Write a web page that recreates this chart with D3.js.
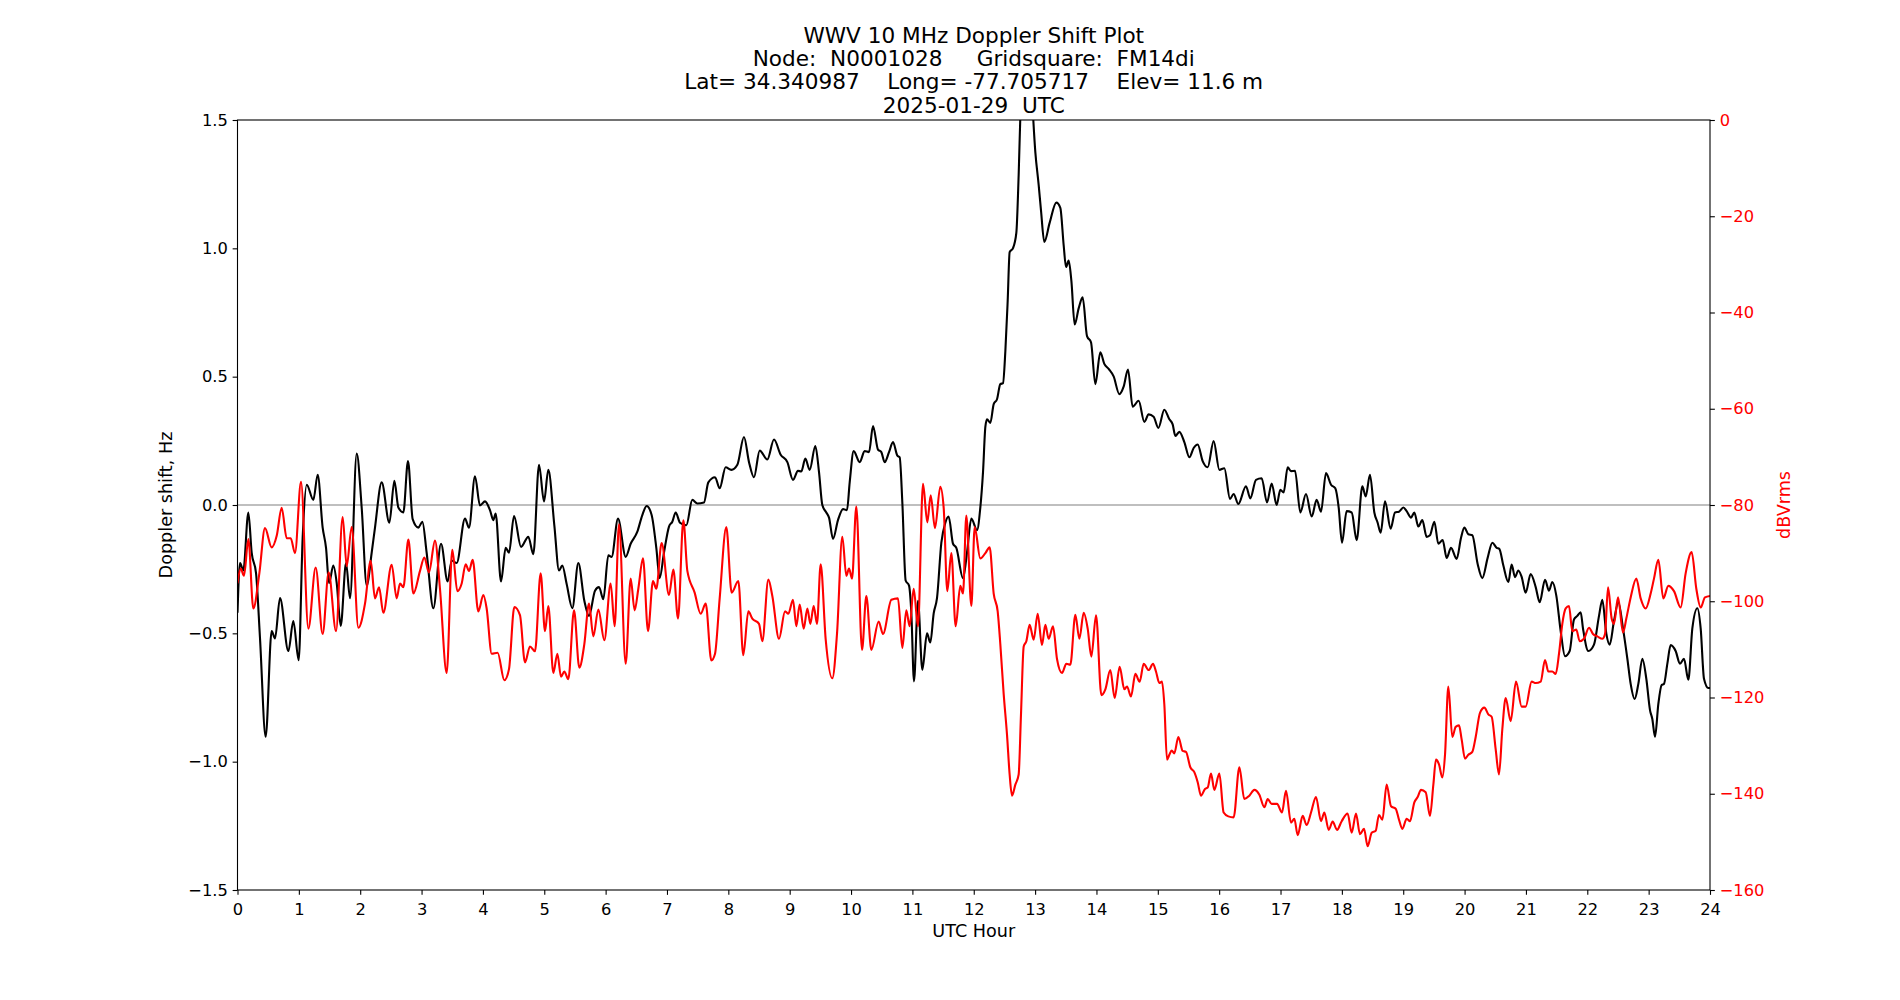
<!DOCTYPE html>
<html>
<head>
<meta charset="utf-8">
<script src="https://cdn.jsdelivr.net/npm/d3@7"></script>
<style>
  body { margin: 0; background: #fff; }
  svg text { font-family: "DejaVu Sans", sans-serif; }
</style>
</head>
<body>
<svg id="chart"></svg>
<script>
// title lines
var titleLines = [
  "WWV 10 MHz Doppler Shift Plot",
  "Node:  N0001028     Gridsquare:  FM14di",
  "Lat= 34.340987    Long= -77.705717    Elev= 11.6 m",
  "2025-01-29  UTC"
];

var xTicks = d3.range(0, 25, 1);
var leftTicks = [-1.5, -1.0, -0.5, 0.0, 0.5, 1.0, 1.5];
var rightTicks = [0, -20, -40, -60, -80, -100, -120, -140, -160];

// doppler shift (Hz): [UTC hour, value]
var dopplerSeries = [
  [0.0,-0.42],[0.041,-0.226],[0.095,-0.255],[0.177,-0.029],[0.231,-0.186],[0.302,-0.265],[0.367,-0.52],
  [0.459,-0.903],[0.557,-0.491],[0.611,-0.52],[0.693,-0.363],[0.829,-0.569],[0.910,-0.452],[0.997,-0.605],
  [1.062,-0.128],[1.128,0.079],[1.236,0.02],[1.307,0.118],[1.388,-0.088],[1.443,-0.167],[1.492,-0.304],
  [1.562,-0.236],[1.617,-0.304],[1.682,-0.471],[1.769,-0.226],[1.834,-0.363],[1.943,0.2],[2.024,-0.01],
  [2.106,-0.314],[2.187,-0.186],[2.241,-0.088],[2.350,0.088],[2.475,-0.069],[2.557,0.094],[2.622,-0.01],
  [2.703,-0.029],[2.779,0.171],[2.855,-0.055],[2.948,-0.088],[3.013,-0.065],[3.083,-0.186],[3.192,-0.402],
  [3.317,-0.151],[3.425,-0.298],[3.491,-0.216],[3.572,-0.226],[3.708,-0.053],[3.773,-0.088],[3.871,0.112],
  [3.952,-0.002],[4.034,0.014],[4.115,-0.02],[4.170,-0.059],[4.208,-0.033],[4.295,-0.298],[4.371,-0.167],
  [4.425,-0.186],[4.507,-0.043],[4.621,-0.163],[4.740,-0.124],[4.822,-0.192],[4.914,0.157],[4.996,0.014],
  [5.066,0.137],[5.164,-0.079],[5.240,-0.255],[5.294,-0.236],[5.365,-0.308],[5.457,-0.402],[5.555,-0.226],
  [5.653,-0.373],[5.729,-0.432],[5.827,-0.334],[5.892,-0.32],[5.963,-0.367],[6.044,-0.196],[6.098,-0.202],
  [6.202,-0.053],[6.327,-0.202],[6.408,-0.151],[6.517,-0.104],[6.598,-0.039],[6.669,-0.004],[6.750,-0.039],
  [6.826,-0.167],[6.881,-0.285],[6.951,-0.186],[7.033,-0.084],[7.087,-0.065],[7.142,-0.029],[7.212,-0.069],
  [7.315,-0.079],[7.413,0.02],[7.495,0.006],[7.603,0.01],[7.674,0.088],[7.783,0.108],[7.859,0.065],
  [7.956,0.147],[8.049,0.137],[8.147,0.157],[8.255,0.265],[8.337,0.167],[8.418,0.108],[8.511,0.212],
  [8.636,0.177],[8.744,0.255],[8.853,0.196],[8.962,0.167],[9.054,0.098],[9.135,0.133],[9.190,0.131],
  [9.255,0.181],[9.326,0.137],[9.418,0.23],[9.478,0.128],[9.532,0.0],[9.597,-0.029],[9.641,-0.049],
  [9.706,-0.132],[9.787,-0.059],[9.869,-0.016],[9.934,-0.02],[9.978,0.088],[10.043,0.21],[10.141,0.167],
  [10.222,0.21],[10.293,0.206],[10.358,0.308],[10.439,0.216],[10.494,0.206],[10.548,0.167],[10.619,0.206],
  [10.684,0.245],[10.755,0.192],[10.793,0.186],[10.836,0.01],[10.890,-0.294],[10.945,-0.314],[10.983,-0.422],
  [11.026,-0.687],[11.091,-0.373],[11.162,-0.642],[11.238,-0.5],[11.292,-0.536],[11.347,-0.422],[11.401,-0.363],
  [11.472,-0.147],[11.537,-0.069],[11.591,-0.045],[11.662,-0.151],[11.716,-0.167],[11.825,-0.285],[11.890,-0.186],
  [11.961,-0.053],[12.053,-0.098],[12.107,-0.01],[12.151,0.128],[12.189,0.304],[12.216,0.334],[12.270,0.32],
  [12.325,0.393],[12.379,0.412],[12.433,0.471],[12.477,0.475],[12.515,0.599],[12.553,0.795],[12.585,0.985],
  [12.640,1.001],[12.694,1.06],[12.732,1.286],[12.77,1.6],[12.85,1.85],[12.94,1.62],[13.004,1.374],
  [13.058,1.247],[13.096,1.148],[13.150,1.025],[13.237,1.099],[13.346,1.178],[13.411,1.158],[13.466,1.011],
  [13.504,0.927],[13.547,0.952],[13.591,0.874],[13.645,0.703],[13.710,0.766],[13.775,0.809],[13.846,0.658],
  [13.911,0.634],[13.982,0.471],[14.063,0.595],[14.128,0.55],[14.199,0.53],[14.280,0.501],[14.373,0.432],
  [14.443,0.461],[14.514,0.528],[14.590,0.383],[14.688,0.406],[14.780,0.324],[14.851,0.353],[14.932,0.344],
  [15.009,0.3],[15.106,0.371],[15.188,0.334],[15.242,0.314],[15.286,0.269],[15.351,0.285],[15.432,0.245],
  [15.514,0.186],[15.584,0.222],[15.650,0.236],[15.731,0.171],[15.813,0.147],[15.910,0.249],[16.003,0.137],
  [16.084,0.143],[16.177,0.024],[16.236,0.043],[16.312,0.004],[16.437,0.073],[16.508,0.026],[16.600,0.098],
  [16.693,0.104],[16.780,0.01],[16.856,0.084],[16.937,0.0],[16.997,0.059],[17.051,0.049],[17.117,0.147],
  [17.171,0.132],[17.236,0.133],[17.323,-0.029],[17.415,0.043],[17.508,-0.045],[17.589,0.02],[17.660,-0.026],
  [17.741,0.124],[17.823,0.079],[17.893,0.065],[17.948,-0.01],[18.002,-0.147],[18.078,-0.024],[18.160,-0.029],
  [18.241,-0.137],[18.334,0.073],[18.388,0.033],[18.458,0.118],[18.529,-0.029],[18.583,-0.069],[18.632,-0.108],
  [18.703,0.014],[18.795,-0.092],[18.866,-0.029],[18.931,-0.026],[19.002,-0.01],[19.056,-0.024],[19.127,-0.049],
  [19.181,-0.029],[19.246,-0.084],[19.311,-0.059],[19.382,-0.124],[19.436,-0.118],[19.507,-0.065],[19.572,-0.151],
  [19.643,-0.137],[19.708,-0.206],[19.779,-0.167],[19.871,-0.21],[19.942,-0.128],[19.996,-0.088],[20.061,-0.114],
  [20.126,-0.118],[20.213,-0.23],[20.289,-0.285],[20.376,-0.206],[20.452,-0.147],[20.523,-0.167],[20.566,-0.171],
  [20.632,-0.236],[20.713,-0.3],[20.767,-0.232],[20.822,-0.281],[20.876,-0.255],[20.930,-0.28],[20.996,-0.342],
  [21.077,-0.269],[21.159,-0.32],[21.224,-0.379],[21.311,-0.291],[21.376,-0.334],[21.430,-0.3],[21.495,-0.353],
  [21.566,-0.491],[21.637,-0.589],[21.713,-0.569],[21.783,-0.446],[21.838,-0.432],[21.892,-0.418],[21.930,-0.481],
  [22.017,-0.569],[22.109,-0.544],[22.191,-0.432],[22.245,-0.369],[22.310,-0.501],[22.365,-0.544],[22.435,-0.452],
  [22.506,-0.379],[22.582,-0.481],[22.653,-0.599],[22.707,-0.697],[22.772,-0.756],[22.832,-0.697],[22.897,-0.599],
  [22.962,-0.677],[23.022,-0.799],[23.060,-0.834],[23.104,-0.903],[23.158,-0.775],[23.212,-0.701],[23.250,-0.697],
  [23.305,-0.618],[23.359,-0.546],[23.440,-0.569],[23.511,-0.618],[23.576,-0.599],[23.647,-0.681],[23.712,-0.481],
  [23.794,-0.402],[23.848,-0.481],[23.902,-0.677],[23.973,-0.713],[24.0,-0.713]
];

// received level (dBVrms): [UTC hour, value]
var powerSeries = [
  [0.0,-96.3],[0.052,-93.2],[0.106,-94.7],[0.177,-87.1],[0.258,-101.5],[0.356,-94.2],[0.448,-84.8],
  [0.557,-88.8],[0.639,-86.4],[0.720,-80.6],[0.802,-86.9],[0.867,-86.9],[0.937,-90.0],[1.035,-75.2],
  [1.155,-105.7],[1.274,-93.0],[1.388,-106.8],[1.486,-94.0],[1.606,-106.2],[1.714,-82.5],[1.780,-92.7],
  [1.861,-84.6],[1.970,-105.5],[2.078,-100.5],[2.171,-91.6],[2.241,-99.4],[2.307,-97.1],[2.377,-102.4],
  [2.513,-92.4],[2.594,-99.4],[2.649,-96.3],[2.703,-97.1],[2.785,-87.2],[2.866,-98.4],[2.975,-93.7],
  [3.045,-90.9],[3.121,-94.0],[3.219,-87.4],[3.300,-97.4],[3.409,-114.9],[3.501,-89.3],[3.583,-97.9],
  [3.654,-96.3],[3.719,-92.3],[3.773,-93.7],[3.833,-91.4],[3.925,-102.1],[4.007,-98.7],[4.061,-101.5],
  [4.143,-110.9],[4.240,-110.7],[4.349,-116.4],[4.425,-114.1],[4.512,-101.2],[4.604,-102.9],[4.686,-112.7],
  [4.767,-109.4],[4.849,-110.4],[4.941,-94.2],[5.012,-106.2],[5.066,-101.0],[5.148,-114.9],[5.213,-110.9],
  [5.273,-115.7],[5.327,-114.6],[5.392,-116.2],[5.485,-101.9],[5.571,-113.8],[5.653,-108.9],[5.729,-100.5],
  [5.800,-107.3],[5.881,-101.7],[5.979,-108.1],[6.082,-96.3],[6.147,-105.2],[6.218,-84.0],[6.327,-113.0],
  [6.408,-95.3],[6.473,-101.9],[6.533,-97.4],[6.609,-91.1],[6.691,-106.2],[6.772,-95.8],[6.826,-97.4],
  [6.913,-87.9],[7.033,-98.7],[7.104,-93.4],[7.180,-103.6],[7.267,-83.2],[7.332,-93.7],[7.451,-98.2],
  [7.549,-102.6],[7.631,-100.5],[7.723,-112.3],[7.783,-110.9],[7.859,-99.4],[7.967,-84.6],[8.054,-98.2],
  [8.163,-95.8],[8.244,-111.2],[8.326,-102.1],[8.391,-103.6],[8.500,-104.7],[8.554,-108.3],[8.652,-95.5],
  [8.717,-98.9],[8.826,-107.8],[8.924,-102.1],[8.978,-102.6],[9.054,-99.7],[9.108,-105.2],[9.163,-100.7],
  [9.228,-105.7],[9.288,-101.5],[9.337,-104.7],[9.391,-101.0],[9.445,-104.7],[9.505,-92.3],[9.586,-107.8],
  [9.695,-116.0],[9.771,-106.8],[9.858,-86.6],[9.923,-94.7],[9.967,-93.2],[10.016,-95.3],[10.086,-80.3],
  [10.179,-110.1],[10.249,-98.9],[10.331,-110.1],[10.450,-104.2],[10.521,-106.8],[10.657,-99.7],[10.765,-99.4],
  [10.836,-109.7],[10.901,-101.9],[10.955,-105.2],[11.021,-97.4],[11.091,-105.2],[11.173,-75.6],[11.243,-83.6],
  [11.298,-78.0],[11.368,-84.8],[11.455,-76.2],[11.510,-80.6],[11.569,-97.9],[11.635,-90.0],[11.705,-105.2],
  [11.781,-96.8],[11.825,-98.4],[11.879,-82.2],[11.961,-101.0],[12.015,-84.6],[12.107,-91.1],[12.189,-90.0],
  [12.259,-88.8],[12.325,-98.4],[12.390,-102.1],[12.433,-108.9],[12.488,-119.3],[12.542,-127.7],[12.585,-136.0],
  [12.623,-140.4],[12.678,-138.1],[12.732,-136.0],[12.770,-123.5],[12.814,-109.4],[12.857,-108.3],[12.911,-104.9],
  [12.977,-108.0],[13.042,-102.6],[13.112,-109.1],[13.167,-104.9],[13.221,-107.8],[13.292,-105.2],[13.357,-112.0],
  [13.438,-114.9],[13.509,-113.0],[13.574,-113.2],[13.656,-102.8],[13.721,-107.8],[13.792,-102.4],[13.857,-105.7],
  [13.917,-111.5],[13.993,-102.9],[14.080,-119.5],[14.145,-118.3],[14.226,-114.3],[14.297,-120.1],[14.378,-113.6],
  [14.454,-118.3],[14.498,-117.7],[14.563,-119.8],[14.634,-115.1],[14.704,-116.7],[14.770,-113.0],[14.851,-114.3],
  [14.922,-113.0],[14.970,-114.6],[15.025,-117.0],[15.068,-116.7],[15.106,-121.4],[15.150,-132.9],[15.188,-131.9],
  [15.226,-131.0],[15.269,-131.6],[15.335,-128.2],[15.405,-131.1],[15.459,-131.3],[15.530,-134.5],[15.595,-135.5],
  [15.650,-137.6],[15.704,-140.4],[15.769,-139.0],[15.813,-138.7],[15.867,-135.8],[15.921,-139.2],[16.003,-135.8],
  [16.073,-143.9],[16.149,-144.7],[16.236,-144.9],[16.329,-134.5],[16.410,-141.1],[16.492,-140.4],[16.573,-139.2],
  [16.655,-140.2],[16.736,-142.8],[16.791,-141.1],[16.856,-142.1],[16.943,-142.1],[17.024,-143.9],[17.089,-139.4],
  [17.171,-146.0],[17.225,-145.2],[17.280,-148.6],[17.361,-144.6],[17.426,-146.5],[17.497,-143.9],[17.578,-140.7],
  [17.660,-145.7],[17.714,-143.9],[17.785,-147.5],[17.850,-145.8],[17.921,-147.5],[17.997,-145.7],[18.094,-144.1],
  [18.160,-148.1],[18.230,-144.1],[18.295,-148.4],[18.361,-147.3],[18.420,-150.9],[18.486,-148.1],[18.551,-147.7],
  [18.605,-144.4],[18.660,-145.4],[18.730,-138.1],[18.801,-142.6],[18.877,-143.1],[18.931,-145.4],[18.986,-147.3],
  [19.056,-145.2],[19.110,-145.7],[19.181,-141.8],[19.235,-140.7],[19.290,-139.2],[19.366,-139.7],[19.436,-144.6],
  [19.491,-138.1],[19.534,-132.9],[19.583,-133.9],[19.637,-136.6],[19.681,-131.9],[19.735,-117.7],[19.800,-128.2],
  [19.855,-126.1],[19.909,-125.8],[19.952,-128.7],[20.007,-132.7],[20.061,-131.9],[20.126,-131.3],[20.181,-128.2],
  [20.251,-123.2],[20.322,-122.1],[20.387,-123.5],[20.441,-124.0],[20.507,-130.8],[20.561,-136.0],[20.615,-126.6],
  [20.670,-120.1],[20.751,-124.9],[20.838,-116.7],[20.930,-121.9],[20.996,-121.9],[21.093,-116.7],[21.159,-117.0],
  [21.240,-116.7],[21.311,-112.2],[21.365,-114.6],[21.430,-114.6],[21.485,-115.1],[21.539,-110.9],[21.593,-104.7],
  [21.648,-101.5],[21.702,-101.0],[21.756,-106.2],[21.821,-105.9],[21.876,-108.3],[21.946,-107.8],[22.028,-105.5],
  [22.093,-106.8],[22.164,-107.3],[22.245,-107.8],[22.289,-106.8],[22.338,-97.1],[22.397,-103.6],[22.435,-104.7],
  [22.501,-99.2],[22.582,-106.5],[22.636,-103.6],[22.707,-99.2],[22.799,-95.3],[22.870,-99.4],[22.951,-101.5],
  [23.033,-98.4],[23.087,-95.3],[23.158,-91.4],[23.239,-99.4],[23.321,-96.8],[23.413,-97.9],[23.522,-101.3],
  [23.603,-94.2],[23.701,-89.8],[23.777,-97.4],[23.848,-101.3],[23.918,-99.2],[24.0,-98.9]
];

var margin = {top: 120, right: 190, bottom: 110, left: 237.5},
    width = 1900 - margin.left - margin.right,
    height = 1000 - margin.top - margin.bottom;

var tickLen = 4.86, tickPad = 4.86;
var tickFont = 16.3, labelFont = 17.6, titleFont = 21.6;

var x = d3.scaleLinear().domain([0, 24]).range([0, width]);
var y = d3.scaleLinear().domain([-1.5, 1.5]).range([height, 0]);
var y2 = d3.scaleLinear().domain([-160, 0]).range([height, 0]);

var svg = d3.select("#chart")
    .attr("width", 1900)
    .attr("height", 1000)
    .append("g")
    .attr("transform", "translate(" + margin.left + "," + margin.top + ")");

svg.append("clipPath")
    .attr("id", "plotclip")
  .append("rect")
    .attr("width", width)
    .attr("height", height);

// zero line
svg.append("line")
    .attr("x1", 0).attr("x2", width)
    .attr("y1", y(0)).attr("y2", y(0))
    .attr("stroke", "#808080")
    .attr("stroke-width", 1.1);

var dopplerLine = d3.line()
    .x(function(d) { return x(d[0]); })
    .y(function(d) { return y(d[1]); })
    .curve(d3.curveMonotoneX);

var powerLine = d3.line()
    .x(function(d) { return x(d[0]); })
    .y(function(d) { return y2(d[1]); })
    .curve(d3.curveMonotoneX);

svg.append("path")
    .datum(dopplerSeries)
    .attr("clip-path", "url(#plotclip)")
    .attr("fill", "none")
    .attr("stroke", "#000")
    .attr("stroke-width", 2.1)
    .attr("stroke-linejoin", "round")
    .attr("d", dopplerLine);

svg.append("path")
    .datum(powerSeries)
    .attr("clip-path", "url(#plotclip)")
    .attr("fill", "none")
    .attr("stroke", "red")
    .attr("stroke-width", 2.1)
    .attr("stroke-linejoin", "round")
    .attr("d", powerLine);

// frame
svg.append("rect")
    .attr("width", width)
    .attr("height", height)
    .attr("fill", "none")
    .attr("stroke", "#000")
    .attr("stroke-width", 1.1);

function styleAxis(g, colour) {
  g.select(".domain").remove();
  g.selectAll(".tick line").attr("stroke", "#000").attr("stroke-width", 1.1);
  g.selectAll(".tick text")
    .attr("fill", colour)
    .style("font-size", tickFont + "px")
    .style("font-family", "DejaVu Sans");
}

// X axis
svg.append("g")
    .attr("transform", "translate(0," + height + ")")
    .call(d3.axisBottom(x).tickValues(xTicks).tickFormat(d3.format("d"))
          .tickSize(tickLen).tickPadding(tickPad))
    .call(styleAxis, "#000")
    .selectAll(".tick text").attr("dy", "0.91em");

// left Y axis
svg.append("g")
    .call(d3.axisLeft(y).tickValues(leftTicks).tickFormat(d3.format(".1f"))
          .tickSize(tickLen).tickPadding(tickPad))
    .call(styleAxis, "#000");

// right Y axis
svg.append("g")
    .attr("transform", "translate(" + width + ",0)")
    .call(d3.axisRight(y2).tickValues(rightTicks).tickFormat(d3.format("d"))
          .tickSize(tickLen).tickPadding(tickPad))
    .call(styleAxis, "red");

// axis titles
svg.append("text")
    .attr("x", width / 2)
    .attr("y", height + 47)
    .attr("text-anchor", "middle")
    .style("font-size", labelFont + "px")
    .text("UTC Hour");

svg.append("text")
    .attr("transform", "translate(" + (166 - margin.left) + "," + (height / 2) + ") rotate(-90)")
    .attr("dy", "0.35em")
    .attr("text-anchor", "middle")
    .style("font-size", labelFont + "px")
    .text("Doppler shift, Hz");

svg.append("text")
    .attr("transform", "translate(" + (width + 73.5) + "," + (height / 2) + ") rotate(-90)")
    .attr("dy", "0.35em")
    .attr("text-anchor", "middle")
    .attr("fill", "red")
    .style("font-size", labelFont + "px")
    .text("dBVrms");

// title
svg.append("g")
    .selectAll("text")
    .data(titleLines)
    .enter()
    .append("text")
    .attr("x", width / 2)
    .attr("y", function(d, i) { return 42.9 - margin.top + i * 23.2; })
    .attr("text-anchor", "middle")
    .style("font-size", titleFont + "px")
    .style("white-space", "pre")
    .attr("xml:space", "preserve")
    .text(function(d) { return d; });
</script>
</body>
</html>
